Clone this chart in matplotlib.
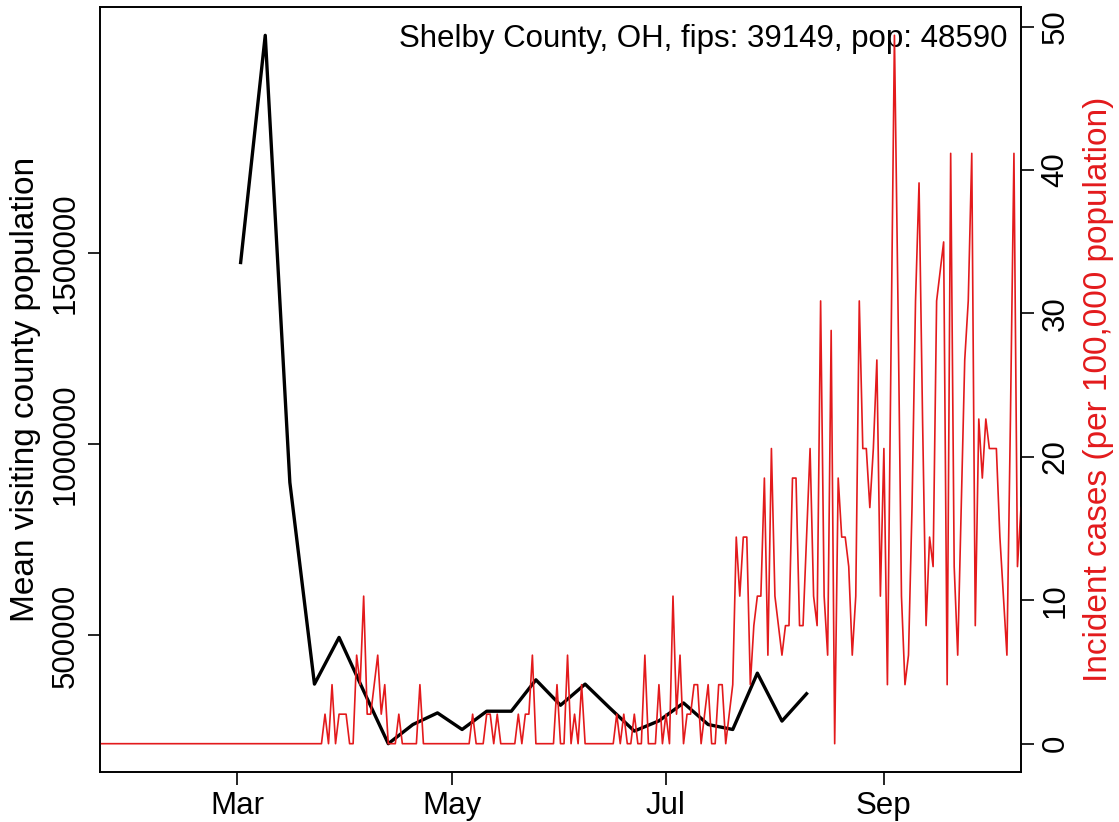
import numpy as np
import pandas as pd
import matplotlib
matplotlib.use("Agg")
from matplotlib import pyplot as plt
import matplotlib.dates as mdates

plt.rcParams['font.family'] = ['Liberation Sans', 'DejaVu Sans']

# county info
county = "Shelby County, OH"
fips = 39149
pop = 48590

# weekly mean visiting population (Mondays from 2020-03-02)
visit_start = "2020-03-02"
visiting = [1475000, 2069000, 900000, 372700, 494800, 354500, 216900, 267000,
            297400, 254000, 301800, 301800, 383900, 317400, 372700, 310400,
            249900, 276600, 323400, 267000, 254000, 401300, 276000, 347500]

# daily new cases from 2020-01-22
case_start = "2020-01-22"
cases = [0, 0, 0, 0, 0, 0, 0, 0, 0, 0, 0, 0, 0, 0, 0, 0,
         0, 0, 0, 0, 0, 0, 0, 0, 0, 0, 0, 0, 0, 0, 0, 0,
         0, 0, 0, 0, 0, 0, 0, 0, 0, 0, 0, 0, 0, 0, 0, 0,
         0, 0, 0, 0, 0, 0, 0, 0, 0, 0, 0, 0, 0, 0, 0, 0,
         1, 0, 2, 0, 1, 1, 1, 0, 0, 3, 2, 5, 1, 1, 2, 3,
         1, 2, 0, 0, 0, 1, 0, 0, 0, 0, 0, 2, 0, 0, 0, 0,
         0, 0, 0, 0, 0, 0, 0, 0, 0, 0, 1, 0, 0, 0, 1, 1,
         0, 1, 0, 0, 0, 0, 0, 1, 0, 1, 1, 3, 0, 0, 0, 0,
         0, 0, 2, 0, 0, 3, 0, 1, 0, 2, 0, 0, 0, 0, 0, 0,
         0, 0, 0, 1, 0, 1, 0, 0, 1, 0, 0, 3, 0, 0, 0, 2,
         0, 1, 0, 5, 1, 3, 0, 1, 1, 2, 2, 0, 1, 2, 0, 0,
         2, 2, 0, 1, 2, 7, 5, 7, 7, 2, 4, 5, 5, 9, 3, 10,
         5, 4, 3, 4, 4, 9, 9, 4, 4, 7, 10, 5, 4, 15, 5, 3,
         14, 0, 9, 7, 7, 6, 3, 5, 15, 10, 10, 8, 10, 13, 5, 10,
         2, 13, 24, 15, 5, 2, 3, 8, 15, 19, 11, 4, 7, 6, 15, 16,
         17, 2, 20, 6, 3, 8, 13, 15, 20, 4, 11, 9, 11, 10, 10, 10,
         7, 5, 3, 11, 20, 6, 8]

visit_dates = pd.date_range(visit_start, periods=len(visiting), freq="7D")
case_dates = pd.date_range(case_start, periods=len(cases), freq="D")
incidence = np.array(cases) / pop * 1e5

fs = 22.5
lab_fs = 24

fig = plt.figure(figsize=(11.19, 8.22), dpi=100)
ax = fig.add_axes([0.0894, 0.0608, 0.8230, 0.9307])

ax.plot(visit_dates, visiting, color="black", lw=2.4, zorder=2)
lo, hi = min(visiting), max(visiting)
pad = 0.04 * (hi - lo)
ax.set_ylim(lo - pad, hi + pad)
ax.set_yticks([500000, 1000000, 1500000])
ax.set_yticklabels(["500000", "1000000", "1500000"], rotation=90, va="center")
ax.set_ylabel("Mean visiting county population", fontsize=lab_fs, labelpad=7)

ax2 = ax.twinx()
ax2.plot(case_dates, incidence, color="#e31a1c", lw=1.2)
top = incidence.max()
ax2.set_ylim(-0.04 * top, top * 1.04)
ax2.set_yticks([0, 10, 20, 30, 40, 50])
ax2.set_yticklabels(["0", "10", "20", "30", "40", "50"], rotation=90, va="center")
ax2.set_ylabel("Incident cases (per 100,000 population)", color="#e31a1c",
               fontsize=lab_fs, labelpad=9)

ax.set_xlim(case_dates[0], case_dates[-1])
ax.xaxis.set_major_locator(mdates.MonthLocator(bymonth=[3, 5, 7, 9]))
ax.xaxis.set_major_formatter(mdates.DateFormatter("%b"))

for a in (ax, ax2):
    a.tick_params(labelsize=fs, length=9, width=1.2, pad=5)
    for s in a.spines.values():
        s.set_linewidth(1.2)

ax.text(0.985, 0.978, f"{county}, fips: {fips}, pop: {pop}", transform=ax.transAxes,
        ha="right", va="top", fontsize=fs)

fig.savefig("out.png", dpi=100)
